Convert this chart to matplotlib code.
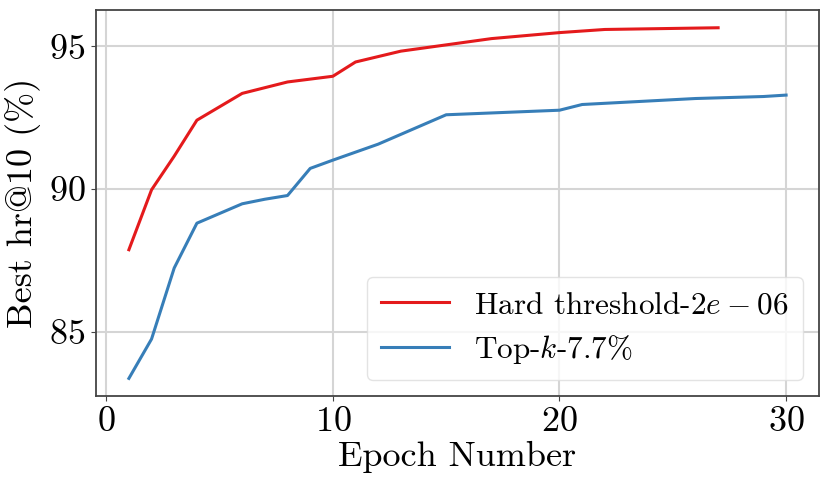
import matplotlib
matplotlib.use("Agg")
import matplotlib.pyplot as plt

# Data
hard_epochs = [1, 2, 3, 4, 6, 8, 10, 11, 13, 15, 17, 20, 22, 27]
hard_values = [87.87, 89.97, 91.15, 92.41, 93.35, 93.75, 93.95, 94.45, 94.83,
               95.05, 95.27, 95.48, 95.59, 95.65]
topk_epochs = [1, 2, 3, 4, 6, 7, 8, 9, 10, 12, 15, 20, 21, 26, 29, 30]
topk_values = [83.36, 84.74, 87.23, 88.80, 89.48, 89.64, 89.77, 90.72, 91.01,
               91.57, 92.60, 92.76, 92.96, 93.17, 93.24, 93.29]
labels = ["Hard threshold-$2e\\:-\\:06$", "Top-$k$-7.7%"]
x_ticks = [0, 10, 20, 30]
y_ticks = [85, 90, 95]

plt.rcParams["font.family"] = "serif"
plt.rcParams["font.serif"] = ["cmr10"]
plt.rcParams["mathtext.fontset"] = "cm"
plt.rcParams["axes.formatter.use_mathtext"] = True

fig = plt.figure(figsize=(8.3, 4.87), dpi=100)
ax = fig.add_axes([0.1157, 0.187, 0.8710, 0.792])

ax.plot(hard_epochs, hard_values, color="#e41a1c", lw=2.2, label=labels[0])
ax.plot(topk_epochs, topk_values, color="#377eb8", lw=2.2, label=labels[1])

ax.set_xticks(x_ticks)
ax.set_yticks(y_ticks)
ax.grid(True, color="#d5d5d5", lw=1.5)
ax.set_axisbelow(True)
for s in ax.spines.values():
    s.set_color("#444444")
    s.set_linewidth(1.3)
ax.tick_params(labelsize=26, length=3.5, color="#444444", pad=4)
ax.set_xlabel("Epoch Number", fontsize=26, labelpad=2)
ax.set_ylabel("Best hr@10 (%)", fontsize=26, labelpad=6)

leg = ax.legend(loc="lower right", fontsize=22.5, frameon=True, framealpha=0.8,
                edgecolor="#dddddd", handlelength=2.2, borderpad=0.45,
                labelspacing=0.45, handletextpad=0.8, borderaxespad=0.5)
leg.get_frame().set_linewidth(1.0)

fig.savefig("out.png", dpi=100)
